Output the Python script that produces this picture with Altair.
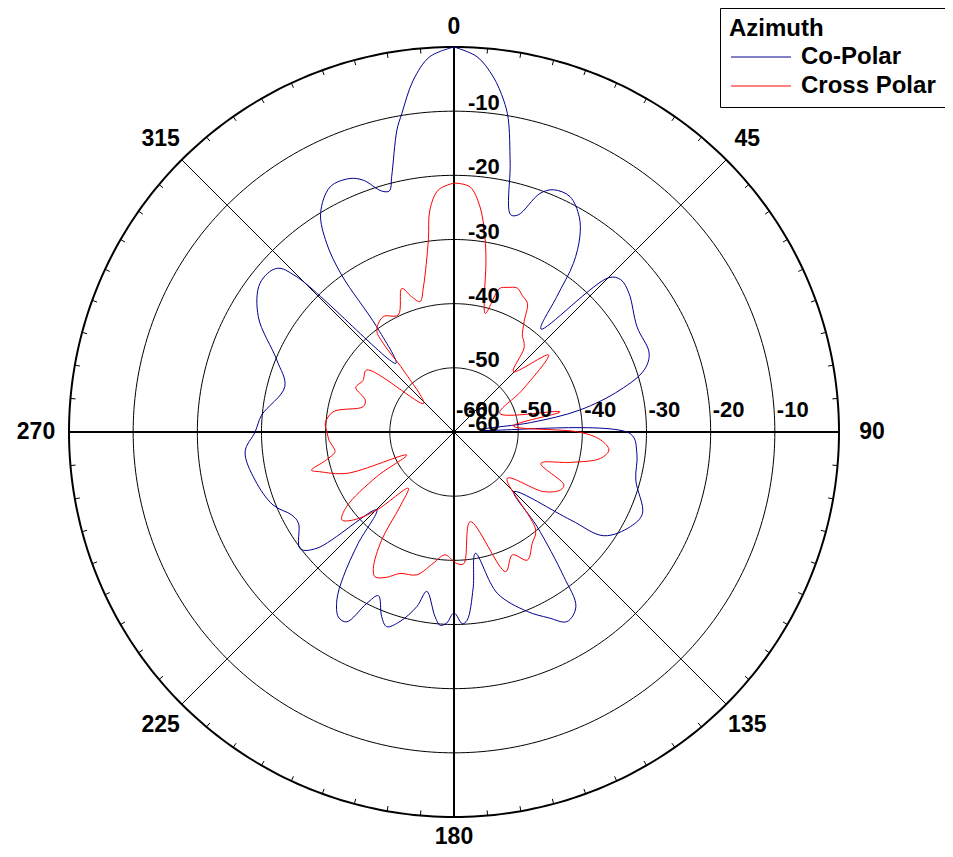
import altair as alt
import pandas as pd

# ---------------- data ----------------
co_angle = [0, 3.5, 6.3, 8.5, 9.8, 11.8, 14.6, 16.5, 19.8, 22.3, 26.2, 30.2, 32.8, 35.3,
            37.2, 40.2, 45.1, 47.6, 51.6, 60.1, 68.0, 71.9, 75.8, 80.1, 83.0, 85.6, 90.6,
            96.7, 104.8, 113.4, 118.2, 124.7, 127.0, 134.9, 138.7, 142.8, 145.1, 149.2,
            153.0, 157.8, 165.0, 170.0, 173.0, 176.0, 177.5, 180.0, 182.2, 184.1, 185.9,
            189.7, 192.0, 195.9, 199.1, 201.4, 204.8, 207.0, 209.5, 212.0, 214.9, 217.4,
            220.7, 224.8, 229.7, 232.8, 239.6, 242.9, 248.0, 256.4, 264.6, 270.0, 275.0,
            285.0, 292.1, 300.5, 307.5, 312.7, 314.6, 319.8, 323.7, 324.4, 326.0, 328.6,
            333.2, 337.7, 340.2, 343.3, 345.0, 346.3, 349.3, 350.7, 353.4, 356.3, 360]
co_db = [0.0, -1.4, -4.3, -7.7, -10.4, -17.2, -25.0, -24.7, -20.5, -19.2, -19.1, -21.2, -23.8,
         -27.8, -33.5, -39.0, -25.9, -24.8, -25.2, -27.1, -27.2, -28.8, -33.3, -40.1, -48.0,
         -55.9, -32.5, -31.3, -30.7, -28.0, -28.8, -31.6, -37.2, -46.8, -40.4, -31.7, -26.8,
         -25.6, -27.5, -29.8, -34.0, -40.8, -35.5, -30.6, -30.1, -31.8, -30.2, -29.8, -31.1,
         -34.8, -32.2, -29.3, -27.9, -29.1, -31.9, -30.0, -26.0, -26.0, -28.1, -31.6, -37.1,
         -42.9, -32.0, -29.9, -31.9, -31.6, -29.6, -28.1, -27.3, -29.0, -29.9, -32.7, -30.2,
         -24.6, -21.9, -22.4, -25.5, -46.0, -39.6, -29.9, -24.5, -20.1, -17.2, -17.3, -18.3,
         -20.8, -21.1, -19.0, -12.1, -9.7, -4.8, -1.4, 0.0]

cr_angle = [0, 3.7, 6.6, 9.0, 10.7, 12.5, 14.8, 17.7, 20.2, 23.8, 26.5, 29.7, 32.4, 35.6,
            37.0, 39.9, 44.5, 50.8, 58.4, 67.9, 79.2, 84.2, 90.1, 93.1, 96.6, 100.2, 104.6,
            109.9, 115.7, 118.5, 123.6, 131.0, 140.2, 144.9, 150.2, 154.6, 159.7, 169.7,
            175.8, 178.8, 180.3, 184.2, 189.0, 194.6, 200.9, 205.0, 208.6, 210.6, 213.8,
            215.9, 219.1, 224.7, 228.8, 231.9, 235.2, 240.0, 244.0, 248.9, 253.5, 255.0,
            257.5, 260.6, 263.1, 266.0, 270.0, 273.9, 279.5, 285.6, 289.8, 294.4, 299.4,
            305.4, 313.1, 320.7, 321.4, 322.8, 328.5, 334.5, 340.0, 342.6, 345.4, 348.1,
            352.4, 353.8, 356.3, 360]
cr_db = [-21.2, -21.7, -24.7, -29.2, -33.2, -38.0, -40.9, -36.5, -36.0, -35.5, -36.2, -36.9,
         -39.6, -41.7, -42.0, -43.0, -46.8, -41.0, -47.5, -52.3, -43.2, -50.7, -40.4, -37.1,
         -35.7, -36.8, -41.2, -45.6, -41.0, -41.1, -43.2, -49.0, -40.1, -38.8, -37.0, -38.8,
         -36.8, -45.8, -39.4, -39.5, -39.9, -40.8, -39.3, -37.0, -36.4, -35.0, -34.3, -35.3,
         -39.7, -45.6, -48.7, -42.9, -39.2, -37.8, -39.6, -46.1, -51.8, -42.1, -38.2, -37.0,
         -39.5, -41.2, -41.0, -40.5, -40.2, -39.9, -40.9, -45.3, -45.3, -43.2, -43.7, -43.3,
         -53.5, -47.5, -42.3, -40.1, -38.9, -39.8, -36.2, -37.9, -39.0, -36.9, -29.8, -25.2,
         -22.2, -21.2]

series_names = ["Co-Polar", "Cross Polar"]
series_colors = ["#00008F", "#FF0000"]

ring_levels = [-50, -40, -30, -20, -10]
outer_level = [0]
spoke_angles = [0, 45, 90, 135, 180, 225, 270, 315]
angle_text = ["0", "45", "90", "135", "180", "225", "270", "315"]
radial_v_vals = [-10, -20, -30, -40, -50, -60]
radial_v_text = ["-10", "-20", "-30", "-40", "-50", "-60"]
radial_h_vals = [-60, -60, -50, -40, -30, -20, -10]
radial_h_text = ["-60", "-60", "-50", "-40", "-30", "-20", "-10"]
radial_h_shift = [0, 12, 0, 0, 0, 0, 0]

# ---------------- layout ----------------
FONT = "Liberation Sans"
FLOOR = -60.0
K = 385.0 / 60.0          # pixels per dB
W, H = 937, 841
CX, CY = 446.0, 424.0     # centre inside the plot area
xdom = [-CX / K, (W - CX) / K]
ydom = [-(H - CY) / K, CY / K]
xs = alt.Scale(domain=xdom, nice=False, zero=False)
ys = alt.Scale(domain=ydom, nice=False, zero=False)

RAD = "datum.angle*PI/180"

# ---------------- curves ----------------
curve_df = pd.concat([
    pd.DataFrame({"series": series_names[0], "angle": co_angle, "db": co_db,
                  "i": range(len(co_angle))}),
    pd.DataFrame({"series": series_names[1], "angle": cr_angle, "db": cr_db,
                  "i": range(len(cr_angle))}),
])

curves = alt.Chart(curve_df).transform_calculate(
    r=f"max(datum.db - ({FLOOR}), 0)",
).transform_calculate(
    x=f"datum.r*sin({RAD})", y=f"datum.r*cos({RAD})"
).mark_line(strokeWidth=1, interpolate="catmull-rom").encode(
    x=alt.X("x:Q", scale=xs, axis=None),
    y=alt.Y("y:Q", scale=ys, axis=None),
    order="i:Q",
    detail="series:N",
    color=alt.Color(
        "series:N",
        scale=alt.Scale(domain=series_names, range=series_colors),
        legend=alt.Legend(
            title="Azimuth", orient="none", legendX=712, legendY=0, direction="vertical",
            titleFont=FONT, titleFontSize=24, titleFontWeight="bold", titleColor="black",
            titlePadding=4,
            labelFont=FONT, labelFontSize=24, labelFontWeight="bold", labelColor="black",
            symbolType="M-1,0H5", symbolSize=400, symbolStrokeWidth=1, labelOffset=48,
            strokeColor="black", fillColor="white", padding=9, rowPadding=5,
        ),
    ),
)

# ---------------- grid circles ----------------
def circle_layer(levels, width):
    return alt.Chart(pd.DataFrame({"level": levels})).transform_calculate(
        angle="sequence(0, 361, 1)"
    ).transform_flatten(["angle"]).transform_calculate(
        r=f"datum.level - ({FLOOR})"
    ).transform_calculate(
        x=f"datum.r*sin({RAD})", y=f"datum.r*cos({RAD})"
    ).mark_line(color="black", strokeWidth=width).encode(
        x=alt.X("x:Q", scale=xs, axis=None),
        y=alt.Y("y:Q", scale=ys, axis=None),
        order="angle:Q",
        detail="level:N",
    )

rings = circle_layer(ring_levels, 1)
outer = circle_layer(outer_level, 2)

# ---------------- spokes ----------------
spokes = alt.Chart(pd.DataFrame({"angle": spoke_angles})).transform_calculate(
    x0="0", y0="0",
    x1=f"{-FLOOR}*sin({RAD})", y1=f"{-FLOOR}*cos({RAD})",
    w="datum.angle % 90 == 0 ? 2 : 1",
).mark_rule(color="black").encode(
    x=alt.X("x0:Q", scale=xs, axis=None),
    y=alt.Y("y0:Q", scale=ys, axis=None),
    x2="x1:Q", y2="y1:Q",
    strokeWidth=alt.StrokeWidth("w:Q", scale=None),
)

# ---------------- ticks every 5 degrees ----------------
ticks = alt.Chart(alt.sequence(0, 360, 5, as_="angle")).transform_calculate(
    xa=f"{-FLOOR}*sin({RAD})", ya=f"{-FLOOR}*cos({RAD})",
    xb=f"{-FLOOR - 0.8}*sin({RAD})", yb=f"{-FLOOR - 0.8}*cos({RAD})",
).mark_rule(color="black", strokeWidth=1).encode(
    x=alt.X("xa:Q", scale=xs, axis=None),
    y=alt.Y("ya:Q", scale=ys, axis=None),
    x2="xb:Q", y2="yb:Q",
)

# ---------------- angle labels ----------------
angle_lbl = alt.Chart(pd.DataFrame({"angle": spoke_angles, "t": angle_text})).transform_calculate(
    lr=f"(418 - 13*pow(cos({RAD}), 4)) / {K}"
).transform_calculate(
    x=f"datum.lr*sin({RAD})", y=f"datum.lr*cos({RAD})"
).mark_text(font=FONT, fontSize=23, fontWeight="bold", color="black",
            align="center", baseline="middle").encode(
    x=alt.X("x:Q", scale=xs, axis=None),
    y=alt.Y("y:Q", scale=ys, axis=None),
    text="t:N",
)

# ---------------- radial labels ----------------
rad_v = alt.Chart(pd.DataFrame({"v": radial_v_vals, "t": radial_v_text})).transform_calculate(
    x="0", y=f"datum.v - ({FLOOR})"
).mark_text(font=FONT, fontSize=22, fontWeight="bold", color="black",
            align="left", baseline="alphabetic", dx=14, dy=-1).encode(
    x=alt.X("x:Q", scale=xs, axis=None),
    y=alt.Y("y:Q", scale=ys, axis=None),
    text="t:N",
)

rad_h = alt.Chart(pd.DataFrame({"v": radial_h_vals, "t": radial_h_text, "s": radial_h_shift})).transform_calculate(
    x=f"datum.v - ({FLOOR}) + datum.s / {K}", y="0"
).mark_text(font=FONT, fontSize=22, fontWeight="bold", color="black",
            align="left", baseline="alphabetic", dx=2, dy=-15).encode(
    x=alt.X("x:Q", scale=xs, axis=None),
    y=alt.Y("y:Q", scale=ys, axis=None),
    text="t:N",
)

chart = alt.layer(
    rings, outer, spokes, ticks, curves, angle_lbl, rad_v, rad_h
).properties(
    width=W, height=H, padding=0,
    autosize=alt.AutoSizeParams(type="none"),
    background="white",
).configure_view(stroke=None)

chart.save("out.html", embed_options={"renderer": "svg", "actions": False})
